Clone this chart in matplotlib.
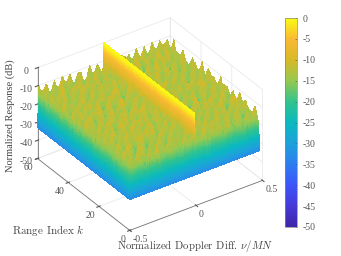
import numpy as np
import matplotlib
matplotlib.use('Agg')
import matplotlib.pyplot as plt
from matplotlib.colors import LinearSegmentedColormap

plt.rcParams['font.family'] = ['Liberation Serif', 'DejaVu Serif']
plt.rcParams['mathtext.fontset'] = 'cm'
plt.rcParams['axes.unicode_minus'] = False

x_ticks = [-0.5, 0, 0.5]
x_tick_labels = ['-0.5', '0', '0.5']
y_ticks = [0, 20, 40, 60]
z_ticks = [-50, -40, -30, -20, -10, 0]
cbar_ticks = [-50, -45, -40, -35, -30, -25, -20, -15, -10, -5, 0]

parula_colors = ['#3e26a8', '#4639d8', '#3c55fa', '#2d7df0', '#1ea0dc', '#0ab9be',
                 '#32c38c', '#96c850', '#d7b928', '#fab932', '#fafa14']

ridge_db = 0
edge_db = -33

# pico/vale, em dB abaixo do pico (linhas: k, colunas: nu)
noise_atten = np.array([
    [11, 19, 9, 15, 22, 10, 17, 8, 20, 13, 10, 18, 12, 21, 9, 16, 11, 19, 14, 8, 22, 11, 17, 10, 20, 9, 15, 18, 12, 21, 10, 16, 8, 19],
    [18, 10, 21, 12, 9, 19, 11, 22, 10, 16, 20, 9, 17, 11, 19, 10, 21, 8, 17, 20, 11, 15, 9, 22, 12, 18, 10, 20, 9, 14, 19, 11, 21, 10],
    [9, 22, 13, 19, 10, 16, 21, 11, 18, 9, 14, 22, 10, 17, 12, 20, 9, 15, 21, 11, 18, 8, 20, 13, 10, 21, 11, 17, 19, 9, 15, 22, 12, 17],
    [20, 12, 8, 17, 21, 9, 14, 19, 10, 22, 11, 16, 19, 8, 21, 11, 18, 10, 13, 22, 9, 19, 12, 16, 21, 8, 20, 10, 14, 22, 11, 18, 9, 20],
    [10, 17, 20, 10, 14, 22, 8, 16, 21, 11, 19, 9, 13, 22, 10, 17, 20, 12, 9, 18, 15, 10, 22, 9, 17, 13, 19, 11, 21, 9, 18, 10, 16, 11],
    [21, 9, 15, 22, 11, 18, 12, 9, 19, 14, 8, 21, 17, 10, 18, 9, 14, 21, 11, 19, 8, 22, 14, 18, 10, 21, 9, 16, 10, 20, 12, 8, 21, 14],
    [12, 19, 10, 18, 8, 20, 10, 22, 13, 9, 20, 11, 22, 15, 8, 21, 10, 17, 19, 9, 16, 11, 20, 10, 19, 11, 17, 22, 8, 15, 21, 10, 18, 9],
    [17, 8, 22, 11, 16, 9, 19, 14, 10, 21, 16, 9, 18, 10, 20, 13, 19, 9, 12, 22, 10, 18, 8, 17, 21, 9, 13, 10, 19, 11, 17, 20, 9, 22],
    [9, 21, 12, 19, 10, 21, 15, 8, 18, 11, 22, 10, 14, 20, 9, 17, 11, 21, 8, 16, 20, 9, 21, 12, 10, 18, 20, 9, 15, 22, 8, 13, 19, 11],
    [19, 11, 17, 8, 20, 12, 10, 21, 9, 16, 8, 19, 11, 22, 10, 18, 9, 14, 20, 10, 13, 21, 11, 19, 8, 22, 10, 17, 12, 9, 20, 11, 22, 16],
    [10, 16, 9, 22, 13, 18, 9, 17, 20, 10, 13, 21, 9, 17, 12, 8, 22, 11, 18, 9, 21, 15, 10, 16, 20, 11, 19, 8, 21, 14, 10, 19, 9, 12],
    [22, 8, 19, 11, 10, 21, 11, 19, 8, 22, 11, 17, 19, 10, 21, 15, 10, 19, 9, 22, 11, 8, 18, 10, 22, 9, 15, 20, 11, 18, 9, 21, 13, 18],
    [11, 18, 14, 20, 9, 16, 22, 10, 13, 18, 9, 20, 12, 8, 19, 10, 17, 12, 21, 14, 8, 20, 12, 21, 9, 17, 10, 22, 9, 16, 20, 10, 17, 8],
    [16, 10, 21, 8, 18, 11, 9, 20, 11, 10, 21, 14, 9, 22, 11, 18, 9, 22, 10, 18, 11, 22, 9, 14, 19, 11, 21, 13, 18, 8, 11, 22, 9, 19],
    [8, 20, 12, 17, 10, 22, 14, 8, 21, 17, 9, 19, 11, 16, 20, 8, 21, 11, 16, 9, 19, 10, 17, 20, 8, 22, 9, 11, 19, 10, 21, 15, 11, 20],
    [19, 11, 9, 22, 13, 9, 19, 11, 18, 10, 22, 12, 20, 9, 14, 19, 10, 18, 8, 21, 12, 15, 21, 9, 18, 10, 16, 21, 8, 17, 9, 19, 10, 13],
    [10, 22, 17, 11, 20, 8, 21, 16, 9, 20, 11, 8, 17, 21, 10, 12, 20, 9, 19, 11, 22, 8, 10, 19, 12, 15, 20, 9, 22, 11, 18, 8, 21, 9],
    [21, 9, 12, 18, 10, 15, 11, 22, 9, 14, 19, 10, 22, 9, 18, 21, 8, 15, 22, 10, 17, 20, 11, 9, 21, 8, 19, 11, 14, 20, 9, 22, 12, 17],
    [9, 17, 20, 8, 22, 19, 9, 13, 20, 8, 21, 16, 11, 19, 9, 14, 19, 10, 12, 21, 9, 18, 14, 22, 10, 17, 9, 21, 10, 19, 13, 10, 20, 8],
    [18, 11, 10, 21, 11, 9, 18, 10, 17, 22, 11, 9, 20, 13, 22, 8, 11, 21, 17, 8, 20, 11, 21, 9, 19, 11, 22, 8, 17, 9, 21, 16, 9, 19],
    [12, 20, 16, 9, 17, 21, 10, 20, 11, 9, 18, 21, 8, 10, 17, 20, 10, 18, 9, 19, 12, 10, 17, 8, 20, 13, 9, 18, 11, 22, 8, 19, 11, 21],
    [8, 22, 10, 19, 12, 8, 22, 9, 15, 21, 10, 14, 19, 11, 21, 9, 16, 8, 22, 11, 16, 21, 9, 18, 11, 21, 10, 20, 9, 14, 20, 10, 22, 10],
    [20, 10, 18, 11, 21, 14, 10, 19, 8, 18, 12, 22, 9, 17, 8, 19, 12, 21, 10, 20, 8, 13, 22, 10, 16, 8, 19, 12, 22, 10, 17, 9, 13, 18],
    [11, 16, 8, 22, 9, 18, 11, 17, 21, 10, 19, 8, 16, 20, 11, 22, 9, 18, 13, 9, 21, 11, 18, 9, 21, 10, 17, 9, 18, 21, 11, 20, 8, 22],
    [17, 9, 21, 13, 19, 10, 21, 8, 12, 20, 9, 17, 21, 10, 18, 10, 20, 11, 19, 8, 17, 20, 10, 22, 12, 19, 8, 21, 11, 9, 18, 10, 19, 10],
    [9, 19, 11, 8, 20, 12, 9, 22, 18, 9, 14, 21, 10, 19, 9, 15, 22, 8, 21, 12, 10, 19, 8, 16, 20, 9, 22, 14, 10, 19, 8, 21, 12, 16],
    [22, 10, 18, 15, 10, 21, 17, 10, 9, 21, 11, 19, 8, 14, 21, 11, 17, 10, 15, 20, 9, 22, 12, 9, 18, 11, 15, 20, 8, 22, 11, 17, 9, 20],
    [10, 20, 9, 21, 8, 18, 11, 19, 13, 10, 22, 9, 18, 10, 20, 8, 12, 21, 9, 18, 11, 16, 20, 10, 21, 8, 19, 10, 17, 12, 20, 9, 22, 8],
    [16, 8, 22, 11, 17, 9, 20, 8, 21, 17, 9, 20, 11, 22, 9, 19, 21, 10, 16, 8, 22, 9, 11, 19, 9, 17, 11, 21, 9, 18, 10, 14, 9, 19],
    [10, 18, 11, 19, 10, 21, 9, 16, 10, 19, 11, 15, 20, 9, 17, 10, 16, 9, 20, 11, 17, 10, 19, 11, 18, 9, 20, 10, 19, 9, 17, 10, 18, 11],
])

nu_noise = np.linspace(-0.49, 0.48, noise_atten.shape[1])
k_noise = np.linspace(1, 60, noise_atten.shape[0])


def montar_superficie():
    n_left = np.sum(nu_noise < 0)
    # tabela ajustada: picos perto de -9 dB, vales perto de -20 dB
    z = -(2.5 + 0.8 * noise_atten)
    left = z[:, :n_left]
    right = z[:, n_left:]
    ridge = np.full((z.shape[0], 1), float(ridge_db))
    z = np.hstack([left, left[:, -1:], ridge, right[:, :1], right])
    nu = np.concatenate([nu_noise[:n_left], [-0.003, 0, 0.003], nu_noise[n_left:]])
    # borda frontal
    z = np.hstack([np.full((z.shape[0], 1), float(edge_db)), z])
    z = np.vstack([np.full((1, z.shape[1]), float(edge_db)), z])
    nu = np.concatenate([[-0.5], nu])
    k = np.concatenate([[0], k_noise])
    return nu, k, z


def indices_finos(eixo, n, n_borda, especiais):
    # mais divisoes nas celulas de parede, so para o degrade das faces
    partes = []
    for i in range(len(eixo) - 1):
        passos = n_borda if i in especiais else n
        partes.append(np.linspace(i, i + 1, passos, endpoint=False))
    partes.append([len(eixo) - 1])
    return np.concatenate(partes)


def refinar(nu, k, z):
    centro = int(np.argmin(np.abs(nu)))
    i_nu = indices_finos(nu, 3, 16, [0, centro - 1, centro])
    i_k = indices_finos(k, 3, 16, [0])
    z2 = np.array([np.interp(i_nu, np.arange(len(nu)), linha) for linha in z])
    z3 = np.array([np.interp(i_k, np.arange(len(k)), col) for col in z2.T]).T
    return np.interp(i_nu, np.arange(len(nu)), nu), np.interp(i_k, np.arange(len(k)), k), z3


parula = LinearSegmentedColormap.from_list('parula_like', parula_colors, N=256)

fig = plt.figure(figsize=(3.41, 2.56), dpi=100)
ax = fig.add_axes([-0.0204, -0.0084, 0.9, 1.02], projection='3d', proj_type='ortho')
ax.view_init(elev=32.8, azim=-124.8)
ax.set_box_aspect((1, 1, 0.668), zoom=0.94)
ax.set_xlim(-0.5, 0.5, view_margin=0)
ax.set_ylim(0, 60, view_margin=0)
ax.set_zlim(-50, 0, view_margin=0)

nu, k, z = montar_superficie()
nu_f, k_f, z_f = refinar(nu, k, z)
NU, K = np.meshgrid(nu_f, k_f)
surf = ax.plot_surface(NU, K, z_f, cmap=parula, vmin=-50, vmax=0, rstride=1, cstride=1,
                       linewidth=0, antialiased=False, shade=False)

ax.set_xticks(x_ticks)
ax.set_xticklabels(x_tick_labels, ha='left')
ax.set_yticks(y_ticks)
ax.set_yticklabels([str(v) for v in y_ticks], ha='right')
ax.set_zticks(z_ticks)
ax.tick_params(labelsize=7, colors='#555555', pad=-3, length=2)
ax.tick_params(axis='x', pad=-5)
ax.tick_params(axis='y', pad=-5)
for eixo in [ax.xaxis, ax.yaxis, ax.zaxis]:
    eixo.set_pane_color((1, 1, 1, 0))
    eixo.line.set_color('#777777')
    eixo.line.set_linewidth(0.6)
    eixo._axinfo['grid']['color'] = '#e6e6e6'
    eixo._axinfo['grid']['linewidth'] = 0.5

cax = fig.add_axes([285 / 341, 1 - 227 / 256, 12 / 341, 209 / 256])
cbar = fig.colorbar(surf, cax=cax, ticks=cbar_ticks)
cbar.ax.tick_params(labelsize=7, colors='#555555', direction='in', length=1.5, width=0.4, pad=4)
cbar.outline.set_edgecolor('#888888')
cbar.outline.set_linewidth(0.5)

fig.text(10 / 341, 1 - 116 / 256, 'Normalized Response (dB)', rotation=90, fontsize=7.5,
         color='#444444', ha='center', va='center')
fig.text(48 / 341, 1 - 231 / 256, r'Range Index $k$', fontsize=8, family='cmr10',
         color='#444444', ha='center', va='center')
fig.text(195 / 341, 1 - 246 / 256, r'Normalized Doppler Diff. $\nu/MN$', fontsize=7.8, family='cmr10',
         color='#444444', ha='center', va='center')

fig.savefig('out.png', dpi=100)
